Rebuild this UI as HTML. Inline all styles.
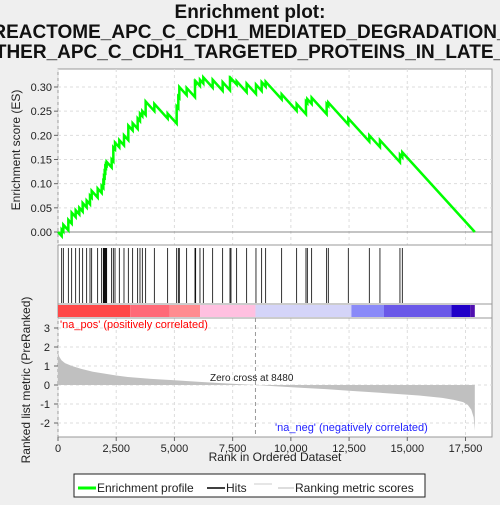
<!DOCTYPE html>
<html><head><meta charset="utf-8"><style>
body{margin:0;background:#efefef;font-family:"Liberation Sans",sans-serif}
</style></head><body>
<svg width="500" height="500" viewBox="0 0 500 500" xmlns="http://www.w3.org/2000/svg" font-family="Liberation Sans, sans-serif">
<g font-weight="bold" font-size="19" text-anchor="middle" fill="#111">
<text x="250" y="18">Enrichment plot:</text>
<text x="250" y="38">REACTOME_APC_C_CDH1_MEDIATED_DEGRADATION_</text>
<text x="250" y="58">OTHER_APC_C_CDH1_TARGETED_PROTEINS_IN_LATE_M</text>
</g>
<rect x="58" y="69" width="434" height="368" fill="#fff" stroke="#999"/>
<g id="grid"></g>
<line x1="58" y1="245" x2="492" y2="245" stroke="#999"/>
<line x1="58" y1="304" x2="492" y2="304" stroke="#999"/>
<line x1="58" y1="318" x2="492" y2="318" stroke="#999"/>
<g id="es"></g>
<g id="hits"></g>
<g id="cbar"></g>
<g id="metric"></g>
<g id="axes" font-size="11" fill="#222"></g>
<text x="20" y="150" transform="rotate(-90 20 150)" text-anchor="middle" font-size="12" fill="#222">Enrichment score (ES)</text>
<text x="30" y="380" transform="rotate(-90 30 380)" text-anchor="middle" font-size="12" fill="#222">Ranked list metric (PreRanked)</text>
<text x="275" y="461" text-anchor="middle" font-size="12" fill="#222">Rank in Ordered Dataset</text>
<text x="60" y="328" font-size="11" fill="#f00">'na_pos' (positively correlated)</text>
<text x="275" y="431" font-size="11" fill="#22f">'na_neg' (negatively correlated)</text>
<text x="210" y="381" font-size="10" fill="#222">Zero cross at 8480</text>
<g>
<rect x="74" y="474" width="351" height="23" fill="#fff" stroke="#222"/>
<line x1="78" y1="488" x2="96" y2="488" stroke="#0f0" stroke-width="3"/>
<text x="97" y="492" font-size="12" fill="#222">Enrichment profile</text>
<line x1="207" y1="488" x2="225" y2="488" stroke="#000" stroke-width="1.5"/>
<text x="226" y="492" font-size="12" fill="#222">Hits</text>
<line x1="254" y1="484" x2="272" y2="484" stroke="#ccc"/>
<line x1="278" y1="488" x2="294" y2="488" stroke="#bbb"/>
<text x="295" y="492" font-size="12" fill="#222">Ranking metric scores</text>
</g>
</svg>
<script>
const hitRanks=[158,229,444,587,759,916,1059,1231,1374,1446,1703,1875,1947,1975,2004,2032,2061,2090,2304,2376,2448,2633,2834,3020,3206,3421,3521,3621,3764,4137,4709,5096,5167,5210,5525,5883,5912,6097,6241,6642,7071,7386,7429,7672,8102,8502,8746,8918,9605,10249,10649,10707,10893,11537,11608,12467,13369,13826,14685,14786];
const esPeaks=[0.005,0.015,0.025,0.04,0.045,0.05,0.06,0.065,0.075,0.085,0.09,0.095,0.105,0.115,0.125,0.135,0.14,0.145,0.15,0.175,0.185,0.19,0.2,0.22,0.225,0.235,0.245,0.25,0.27,0.265,0.245,0.26,0.28,0.3,0.298,0.31,0.312,0.315,0.32,0.315,0.31,0.318,0.318,0.312,0.307,0.305,0.31,0.311,0.285,0.265,0.27,0.275,0.278,0.265,0.268,0.235,0.2,0.19,0.16,0.165];
const metricRanks=[0,50,150,300,600,1000,1500,2000,2500,3000,4000,5000,6000,7000,8480,9500,10500,11500,12500,13500,14500,15500,16500,17000,17400,17600,17750,17850,17900];
const metricVals=[1.75,1.5,1.3,1.15,1.0,0.85,0.7,0.6,0.5,0.42,0.32,0.25,0.17,0.1,0,-0.08,-0.15,-0.22,-0.3,-0.38,-0.47,-0.55,-0.68,-0.78,-0.9,-1.05,-1.3,-1.7,-2.4];
const esTicks=[0,0.05,0.1,0.15,0.2,0.25,0.3];
const metricTicks=[-2,-1,0,1,2,3];
const xTicks=[0,2500,5000,7500,10000,12500,15000,17500];
const xTickLabels=["0","2,500","5,000","7,500","10,000","12,500","15,000","17,500"];
const cbarStops=[0,3100,4800,6100,8480,12600,14000,16900,17700,17900];
const cbarColors=["#ff4848","#ff6a78","#ff8c90","#ffc0e0","#d4d4f8","#8a8af8","#6a58e8","#2000c8","#5010b0"];
const N=17900,slope=0.165/(N-14786);
const X=r=>58+r*(407.5/17500), Ye=v=>232-v*(145/0.30), Ym=v=>385-v*19;
const ns="http://www.w3.org/2000/svg";
function mk(t,a,p){const e=document.createElementNS(ns,t);for(const k in a)e.setAttribute(k,a[k]);p.appendChild(e);return e;}
const grid=document.getElementById('grid'),axes=document.getElementById('axes');
esTicks.forEach(v=>{const l=mk('line',{x1:58,x2:492,y1:Ye(v),y2:Ye(v),stroke:'#ddd','stroke-dasharray':'3,3'},grid);
const t=mk('text',{x:52,y:Ye(v)+4,'text-anchor':'end'},axes);t.textContent=v.toFixed(2);
mk('line',{x1:54,x2:58,y1:Ye(v),y2:Ye(v),stroke:'#666'},axes);});
metricTicks.forEach(v=>{const l=mk('line',{x1:58,x2:492,y1:Ym(v),y2:Ym(v),stroke:'#ddd','stroke-dasharray':'3,3'},grid);
const t=mk('text',{x:50,y:Ym(v)+4,'text-anchor':'end'},axes);t.textContent=v;
mk('line',{x1:54,x2:58,y1:Ym(v),y2:Ym(v),stroke:'#666'},axes);});
xTicks.forEach((v,i)=>{[[69,245],[318,437]].forEach(([a,b])=>{const l=mk('line',{x1:X(v),x2:X(v),y1:a,y2:b,stroke:'#ddd','stroke-dasharray':'3,3'},grid);});
mk('line',{x1:X(v),x2:X(v),y1:437,y2:441,stroke:'#666'},axes);
const t=mk('text',{x:X(v),y:452,'text-anchor':'middle'},axes);t.textContent=xTickLabels[i];});
const es=document.getElementById('es');
const zl=mk('line',{x1:58,x2:492,y1:Ye(0),y2:Ye(0),stroke:'#888'},es);
let pts=[[0,0]],prevR=0,prevV=0;
hitRanks.forEach((r,i)=>{const pre=Math.min(prevV-slope*(r-prevR),esPeaks[i]);pts.push([r,pre],[r,esPeaks[i]]);prevR=r;prevV=esPeaks[i];});
pts.push([N,Math.max(0,prevV-slope*(N-prevR))]);
const pl=mk('polyline',{points:pts.map(p=>X(p[0])+','+Ye(p[1])).join(' '),fill:'none',stroke:'#0f0','stroke-width':2.5},es);

const hg=document.getElementById('hits');
hitRanks.forEach(r=>{const l=mk('line',{x1:X(r),x2:X(r),y1:248,y2:303,stroke:'#000','stroke-width':0.8},hg);});
const cb=document.getElementById('cbar');
cbarColors.forEach((c,i)=>{const r=mk('rect',{x:X(cbarStops[i]),y:305,width:X(cbarStops[i+1])-X(cbarStops[i]),height:12,fill:c},cb);});
const mg=document.getElementById('metric');
let d='M'+X(0)+','+Ym(0);metricRanks.forEach((r,i)=>d+=' L'+X(r)+','+Ym(metricVals[i]));d+=' L'+X(N)+','+Ym(0)+' Z';
const ar=mk('path',{d:d,fill:'#c0c0c0'},mg);
const zc=mk('line',{x1:X(8480),x2:X(8480),y1:318,y2:437,stroke:'#999','stroke-dasharray':'4,3'},mg);
</script>
</body></html>
